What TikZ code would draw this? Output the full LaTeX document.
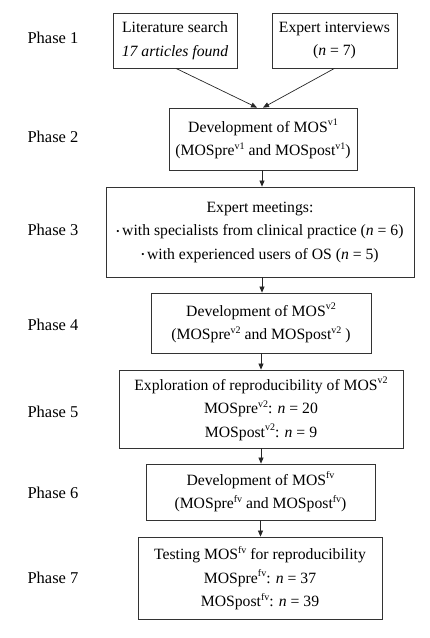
\documentclass[tikz,border=0pt]{standalone}
\usepackage{fontspec}
\setmainfont{Liberation Serif}
\usetikzlibrary{arrows.meta}
\newcommand{\sps}[1]{\raisebox{0.42em}{\fontsize{10}{10}\selectfont #1}}
\newcommand{\bul}{{\fontsize{9}{9}\selectfont\raisebox{0.15em}{\textbullet}}\,}
\begin{document}
\begin{tikzpicture}[x=1pt,y=-1pt,
  box/.style={draw=black!80,line width=0.8pt,inner sep=0pt,align=center,
    font=\fontsize{15.7}{23.5}\selectfont},
  phase/.style={inner sep=0pt,font=\fontsize{16.5}{20}\selectfont},
  arr/.style={draw=black!85,line width=0.7pt,-{Triangle[length=6pt,width=5pt]}}]
\useasboundingbox (0,0) rectangle (430,638);
\node[box,minimum width=124,minimum height=55] (lit) at (175,40.5)
  {Literature search\\\textit{17 articles found}};
\node[box,minimum width=125,minimum height=55] (exp) at (334.5,40.5)
  {Expert interviews\\(\textit{n} = 7)};
\node[box,minimum width=188,minimum height=62] (dev1) at (263,139)
  {Development of MOS\sps{v1}\\(MOSpre\sps{v1} and MOSpost\sps{v1})};
\node[box,minimum width=308,minimum height=90] (meet) at (260,232)
  {Expert meetings:\\\bul with specialists from clinical practice (\textit{n} = 6)\\\bul with experienced users of OS (\textit{n} = 5)};
\node[box,minimum width=220,minimum height=60] (dev2) at (261,323)
  {Development of MOS\sps{v2}\\(MOSpre\sps{v2} and MOSpost\sps{v2} )};
\node[box,minimum width=284,minimum height=78] (expl) at (261,409)
  {Exploration of reproducibility of MOS\sps{v2}\\MOSpre\sps{v2}: \textit{n} = 20\\MOSpost\sps{v2}: \textit{n} = 9};
\node[box,minimum width=229,minimum height=56] (devf) at (260.5,492)
  {Development of MOS\sps{fv}\\(MOSpre\sps{fv} and MOSpost\sps{fv})};
\node[box,minimum width=244,minimum height=82] (test) at (260,578)
  {Testing MOS\sps{fv} for reproducibility\\MOSpre\sps{fv}: \textit{n} = 37\\MOSpost\sps{fv}: \textit{n} = 39};
\node[phase] (p1) at (53,38) {Phase 1};
\node[phase] (p2) at (53,137) {Phase 2};
\node[phase] (p3) at (53,230) {Phase 3};
\node[phase] (p4) at (53,325) {Phase 4};
\node[phase] (p5) at (53,412) {Phase 5};
\node[phase] (p6) at (53,493) {Phase 6};
\node[phase] (p7) at (53,578) {Phase 7};
\draw[arr] ([xshift=1]lit.south) -- ([xshift=-6]dev1.north);
\draw[arr] (exp.south) -- ([xshift=0]dev1.north);
\draw[arr] ([xshift=-1]dev1.south) -- ([xshift=-1]dev1.south |- meet.north);
\draw[arr] ([xshift=2]meet.south) -- ([xshift=2]meet.south |- dev2.north);
\draw[arr] (dev2.south) -- (dev2.south |- expl.north);
\draw[arr] (expl.south) -- (expl.south |- devf.north);
\draw[arr] (devf.south) -- (devf.south |- test.north);
\end{tikzpicture}
\end{document}
